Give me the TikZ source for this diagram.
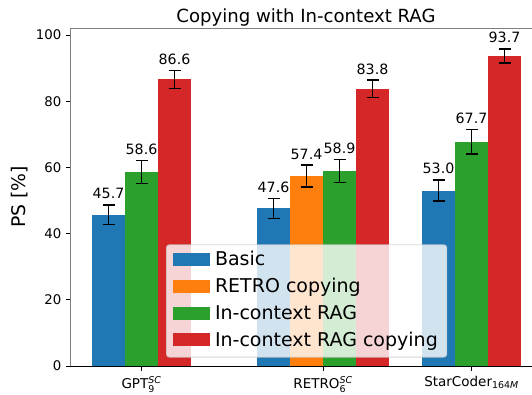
\documentclass[tikz,border=0pt]{standalone}
\usepackage{amsmath}
\usepackage{fontspec}
\setmainfont{DejaVu Sans}
\definecolor{tabblue}{HTML}{1F77B4}
\definecolor{taborange}{HTML}{FF7F0E}
\definecolor{tabgreen}{HTML}{2CA02C}
\definecolor{tabred}{HTML}{D62728}
\definecolor{spinegray}{HTML}{7F7F7F}
\definecolor{legedge}{HTML}{CCCCCC}
\newcommand\fsz[1]{\fontsize{#1}{#1}\selectfont}
\newcommand\drawbar[5]{% #1 left x, #2 value, #3 err, #4 colour, #5 name
  \fill[#4] (#1,366) rectangle ({#1+33},{366-3.31*#2});
  \draw[errbar] ({#1+16.5},{366-3.31*(#2-#3)}) -- ({#1+16.5},{366-3.31*(#2+#3)});
  \draw[errbar] ({#1+10.5},{366-3.31*(#2-#3)}) -- ({#1+22.5},{366-3.31*(#2-#3)});
  \draw[errbar] ({#1+10.5},{366-3.31*(#2+#3)}) -- ({#1+22.5},{366-3.31*(#2+#3)});
  \node[vallabel] (#5) at ({#1+16.5},{366-3.31*(#2+#3)-6}) {#2};
}
\begin{document}
\begin{tikzpicture}[x=1pt,y=-1pt,
  errbar/.style={black,line width=1.4pt},
  vallabel/.style={anchor=base,inner sep=0pt,font=\fsz{14.2}},
  yticklab/.style={anchor=east,inner sep=0pt,font=\fsz{13.3}},
  xticklab/.style={anchor=base,inner sep=0pt,font=\fsz{13.5}},
  legtext/.style={anchor=base west,inner sep=0pt,font=\fsz{19}},
  legendbox/.style={draw=legedge,draw opacity=0.8,fill=white,fill opacity=0.8,
     rounded corners=3pt,line width=0.9pt,inner sep=0pt,anchor=north west},
  tickline/.style={black,line width=1pt}]
\useasboundingbox (0,0) rectangle (532,394);
% bars
\drawbar{92}{45.7}{3.0}{tabblue}{g1}
\drawbar{125}{58.6}{3.5}{tabgreen}{g2}
\drawbar{158}{86.6}{2.7}{tabred}{g3}
\drawbar{257}{47.6}{3.0}{tabblue}{r1}
\drawbar{290}{57.4}{3.3}{taborange}{r2}
\drawbar{323}{58.9}{3.4}{tabgreen}{r3}
\drawbar{356}{83.8}{2.6}{tabred}{r4}
\drawbar{422}{53.0}{3.2}{tabblue}{s1}
\drawbar{455}{67.7}{3.7}{tabgreen}{s2}
\drawbar{488}{93.7}{2.1}{tabred}{s3}
% spines
\draw[spinegray,line width=1pt] (70.3,366) -- (70.3,28.7) -- (532,28.7);
\draw[black,line width=1pt] (70.3,366) -- (532,366);
% y ticks
\foreach \v in {0,20,40,60,80,100}{
  \draw[tickline] (65.8,{366-3.31*\v}) -- (70.3,{366-3.31*\v});
  \node[yticklab] (yt\v) at (61.5,{366-3.31*\v}) {\v};
}
% x ticks
\foreach \x in {141.5,323,471.5}{
  \draw[tickline] (\x,366) -- (\x,370.5);
}
\node[xticklab] (xt1) at (141.5,388.3) {GPT$_{\text{9}}^{\textit{SC}}$};
\node[xticklab] (xt2) at (323,388.3) {RETRO$_{\text{6}}^{\textit{SC}}$};
\node[xticklab] (xt3) at (471.5,386.7) {StarCoder$_{\text{164}\textit{M}}$};
% labels
\node[anchor=base,inner sep=0pt,font=\fsz{18.1}] (title) at (306,22) {Copying with In-context RAG};
\node[rotate=90,inner sep=0pt,font=\fsz{18.8}] (ylab) at (19.7,197) {PS [\%]};
% legend
\node[legendbox,minimum width=280.3pt,minimum height=112.4pt] (legend) at (166,244.3) {};
\fill[tabblue] (173,252.5) rectangle (210,265.5);
\fill[taborange] (173,279.8) rectangle (210,292.8);
\fill[tabgreen] (173,306.7) rectangle (210,319.7);
\fill[tabred] (173,333.2) rectangle (210,346.2);
\node[legtext] (l1) at (214.8,265.5) {Basic};
\node[legtext] (l2) at (214.8,292.8) {RETRO copying};
\node[legtext] (l3) at (214.8,319.7) {In-context RAG};
\node[legtext] (l4) at (214.8,346.2) {In-context RAG copying};
\end{tikzpicture}
\end{document}
